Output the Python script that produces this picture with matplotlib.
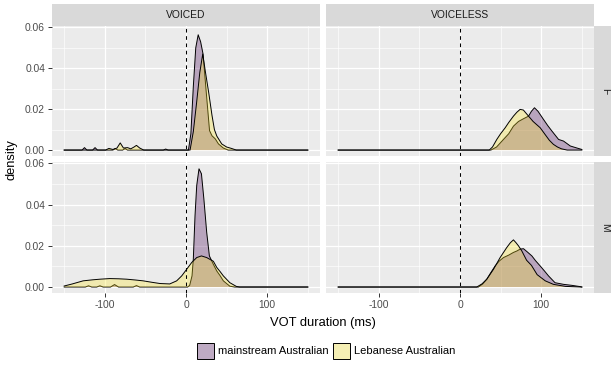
import numpy as np
import matplotlib
matplotlib.use("Agg")
import matplotlib.pyplot as plt
from matplotlib.patches import Rectangle
from matplotlib.ticker import MultipleLocator

plt.rcParams['font.family'] = ['Liberation Sans', 'DejaVu Sans']

# ---------------- data ----------------
columns = ["VOICED", "VOICELESS"]
rows = ["F", "M"]
groups = ["mainstream Australian", "Lebanese Australian"]
x_ticks = [-100, 0, 100]
y_ticks = [0.00, 0.02, 0.04, 0.06]

# VOICED / F
vf_main_x = [-150, -128, -125, -122, -115, -112, -109, -90, -87, -84, -78, -75, -72, -28, -25, -22,
             3, 6, 9, 12, 15, 18, 21, 25, 29, 32, 36, 40, 46, 52, 150]
vf_main_y = [0, 0, 0.0012, 0, 0, 0.0012, 0, 0, 0.0008, 0, 0, 0.0008, 0, 0, 0.0005, 0,
             0, 0.008, 0.031, 0.050, 0.0564, 0.053, 0.047, 0.028, 0.0095, 0.007, 0.0055, 0.003, 0.001, 0, 0]
vf_leb_x = [-150, -99, -95, -90, -85, -81, -77, -72, -68, -64, -61, -57, -52,
            5, 9, 13, 17, 20.6, 24, 28, 32, 35, 38, 44, 50, 56, 62, 150]
vf_leb_y = [0, 0, 0.0008, 0.0003, 0.001, 0.0035, 0.001, 0.0012, 0.0006, 0.0015, 0.0023, 0.001, 0,
            0, 0.009, 0.023, 0.038, 0.047, 0.038, 0.028, 0.017, 0.010, 0.0068, 0.003, 0.0015, 0.0008, 0, 0]

# VOICELESS / F
vlf_main_x = [-150, 38, 45, 53.5, 60, 65.8, 72, 78, 84.4, 88, 91.7, 96, 102.8, 108, 113.2,
              121.4, 127.5, 135.8, 144, 150]
vlf_main_y = [0, 0, 0.0015, 0.0052, 0.008, 0.0117, 0.014, 0.0153, 0.0166, 0.019, 0.0207, 0.019,
              0.015, 0.012, 0.0093, 0.0052, 0.0044, 0.002, 0.001, 0.0003]
vlf_leb_x = [-150, 36, 40, 45.3, 50, 55.6, 60, 65.8, 70, 74, 78, 84.4, 90, 98.8, 105, 110,
             115, 120, 125, 132, 150]
vlf_leb_y = [0, 0, 0.0015, 0.0052, 0.008, 0.0109, 0.0135, 0.0166, 0.0185, 0.0199, 0.0196,
             0.0166, 0.014, 0.0109, 0.0075, 0.0048, 0.0028, 0.0015, 0.0006, 0, 0]

# VOICED / M
vm_main_x = [-150, -124, -120, -116, -110, -106, -102, -93, -88, -83, -65, -61, -57,
             2, 4.5, 7.4, 9, 11.1, 13.2, 16, 19, 22, 25.5, 28.8, 33.7, 37.9, 42, 46, 54, 60, 150]
vm_main_y = [0, 0, 0.0006, 0, 0, 0.0006, 0, 0, 0.0012, 0, 0, 0.0007, 0,
             0, 0.0008, 0.0054, 0.0135, 0.0346, 0.0493, 0.0574, 0.055, 0.0428, 0.0265, 0.0151,
             0.011, 0.0078, 0.0055, 0.003, 0.0004, 0, 0]
vm_leb_x = [-150, -140, -126.7, -115, -106, -94, -83, -73, -62, -52.7, -42, -32, -20, -11.5,
            -5.3, 0.8, 7, 13.2, 19, 25.5, 33.7, 37.9, 42, 46, 54, 62, 66, 150]
vm_leb_y = [0.0005, 0.0015, 0.003, 0.0035, 0.0038, 0.0041, 0.004, 0.0038, 0.0034, 0.003,
            0.0023, 0.0017, 0.0015, 0.003, 0.0054, 0.0086, 0.0119, 0.0143, 0.0151, 0.0143,
            0.0125, 0.0095, 0.0075, 0.0054, 0.0021, 0.0003, 0, 0]

# VOICELESS / M
vlm_main_x = [-150, 22.6, 28, 33, 38, 43.2, 48, 53.5, 60, 65.8, 70, 74, 78.2, 83, 88.5, 93,
              98.8, 104, 109, 117, 127.5, 138, 148, 150]
vlm_main_y = [0, 0, 0.0015, 0.0038, 0.007, 0.0102, 0.0125, 0.0143, 0.0155, 0.0168, 0.0175,
              0.0184, 0.0186, 0.017, 0.0151, 0.0128, 0.0102, 0.0078, 0.0054, 0.0021, 0.0013,
              0.0008, 0.0002, 0]
vlm_leb_x = [-150, 20.6, 27, 33, 41.2, 49.4, 57.6, 62, 65.8, 69, 72, 76, 82, 88, 95, 105,
             115, 130, 150]
vlm_leb_y = [0, 0, 0.0015, 0.0038, 0.0086, 0.0143, 0.0192, 0.0215, 0.0229, 0.0215, 0.020,
             0.0176, 0.013, 0.0105, 0.006, 0.003, 0.0013, 0.0003, 0]

curves = {
    ("F", "VOICED"): [(vf_main_x, vf_main_y), (vf_leb_x, vf_leb_y)],
    ("F", "VOICELESS"): [(vlf_main_x, vlf_main_y), (vlf_leb_x, vlf_leb_y)],
    ("M", "VOICED"): [(vm_main_x, vm_main_y), (vm_leb_x, vm_leb_y)],
    ("M", "VOICELESS"): [(vlm_main_x, vlm_main_y), (vlm_leb_x, vlm_leb_y)],
}

# ---------------- style ----------------
fill_colors = ["#440154", "#FDE725"]
ALPHA = 0.3
PANEL_BG = "#EBEBEB"
STRIP_BG = "#D9D9D9"
W, H = 611, 371

fig = plt.figure(figsize=(W / 100, H / 100), dpi=100)
fig.patch.set_facecolor("white")

col_left = [52, 326]
panel_w = 268
row_top = [26, 162]
panel_h = [130, 131]

def fx(px):
    return px / W

def fy(py):
    return 1 - py / H

for ri, r in enumerate(rows):
    for ci, c in enumerate(columns):
        l = col_left[ci]
        t = row_top[ri]
        h = panel_h[ri]
        ax = fig.add_axes([fx(l), fy(t + h), panel_w / W, h / H])
        ax.set_facecolor(PANEL_BG)
        for s in ax.spines.values():
            s.set_visible(False)
        ax.set_xlim(-165, 165)
        ax.set_ylim(-0.0029, 0.0607)
        ax.xaxis.set_major_locator(MultipleLocator(100))
        ax.xaxis.set_minor_locator(MultipleLocator(50))
        ax.yaxis.set_major_locator(MultipleLocator(0.02))
        ax.yaxis.set_minor_locator(MultipleLocator(0.01))
        ax.grid(which="major", color="white", linewidth=0.9)
        ax.grid(which="minor", color="white", linewidth=0.45)
        ax.set_axisbelow(True)
        ax.tick_params(which="minor", length=0)
        ax.tick_params(which="major", length=3, width=0.7, color="#333333",
                       labelsize=7.4, labelcolor="#4D4D4D", pad=2)
        if ci == 0:
            ax.set_yticks(y_ticks)
            ax.set_yticklabels([f"{v:.2f}" for v in y_ticks])
        else:
            ax.tick_params(axis="y", which="both", left=False, labelleft=False)
        if ri == 1:
            ax.set_xticks(x_ticks)
            ax.set_xticklabels([str(v) for v in x_ticks])
        else:
            ax.tick_params(axis="x", which="both", bottom=False, labelbottom=False)

        for gi, (xs, ys) in enumerate(curves[(r, c)]):
            ax.fill_between(xs, 0, ys, facecolor=fill_colors[gi], alpha=ALPHA,
                            edgecolor="none", zorder=2 + gi * 2)
            ax.plot(xs, ys, color="black", linewidth=0.7, zorder=3 + gi * 2)
        ax.axvline(0, color="black", linestyle=(0, (3.5, 3.5)), linewidth=0.75, zorder=10)

        # top strip
        if ri == 0:
            fig.patches.append(Rectangle((fx(l), fy(26)), panel_w / W, 22 / H,
                                         transform=fig.transFigure, facecolor=STRIP_BG,
                                         edgecolor="none"))
            fig.text(fx(l + panel_w / 2), fy(15), c, ha="center", va="center",
                     fontsize=7.4, color="#1A1A1A")
        # right strip
        if ci == 1:
            fig.patches.append(Rectangle((fx(594), fy(t + h)), 22 / W, h / H,
                                         transform=fig.transFigure, facecolor=STRIP_BG,
                                         edgecolor="none"))
            fig.text(fx(605), fy(t + h / 2), r, ha="center", va="center",
                     rotation=-90, fontsize=7.4, color="#1A1A1A")

# axis titles
fig.text(fx(323), fy(323), "VOT duration (ms)", ha="center", va="center",
         fontsize=9.3, color="black")
fig.text(fx(12), fy(160), "density", ha="center", va="center", rotation=90,
         fontsize=9.3, color="black")

# legend (manual)
def blend(hexc, a, bg=242):
    rgb = np.array(matplotlib.colors.to_rgb(hexc))
    return tuple(a * rgb + (1 - a) * bg / 255)

key_x = [197, 333]
for gi, g in enumerate(groups):
    fig.patches.append(Rectangle((fx(key_x[gi]), fy(359)), 17 / W, 16 / H,
                                 transform=fig.transFigure,
                                 facecolor=blend(fill_colors[gi], ALPHA),
                                 edgecolor="black", linewidth=0.7))
    fig.text(fx(key_x[gi] + 21), fy(351), g, ha="left", va="center",
             fontsize=8.0, color="black")

fig.savefig("out.png", dpi=100)
